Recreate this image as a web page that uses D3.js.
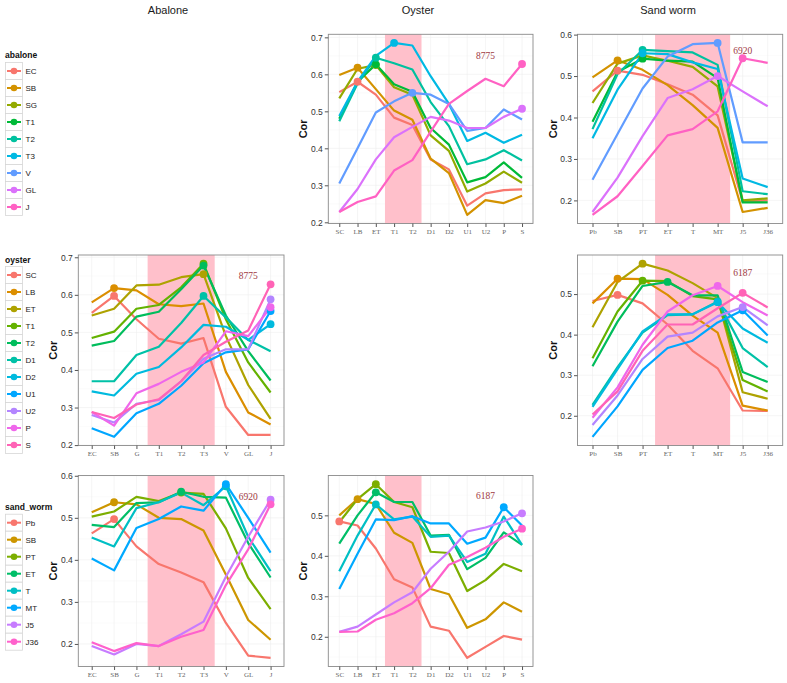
<!DOCTYPE html>
<html><head><meta charset="utf-8">
<script src="https://cdn.jsdelivr.net/npm/d3@7"></script>
<style>body{margin:0;background:#fff}</style>
</head><body><svg id="c" width="787" height="683"></svg>
<script>
// ---------- categories ----------
const abaloneLegend = ["EC","SB","SG","T1","T2","T3","V","GL","J"];
const abaloneAxis   = ["EC","SB","G","T1","T2","T3","V","GL","J"];
const oysterStages  = ["SC","LB","ET","T1","T2","D1","D2","U1","U2","P","S"];
const sandwormStages = ["Pb","SB","PT","ET","T","MT","J5","J36"];
const columnTitles = ["Abalone","Oyster","Sand worm"];
const legendTitles = ["abalone","oyster","sand_worm"];

// ---------- colours (ggplot hue palettes) ----------
const abaloneColors = ["#F8766D","#D39200","#93AA00","#00BA38","#00C19F","#00B9E3","#619CFF","#DB72FB","#FF61C3"];
const oysterColors = ["#F8766D","#DB8E00","#AEA200","#64B200","#00BD5C","#00C1A7","#00BADE","#00A6FF","#B385FF","#EF67EB","#FF63B6"];
const sandwormColors = ["#F8766D","#CD9600","#7CAE00","#00BE67","#00BFC4","#00A9FF","#C77CFF","#FF61CC"];

// ---------- values: one row per line (row species stage), one column per x stage ----------
// abalone stages (lines) vs oyster stages (x)
const abaloneVsOyster = [
  [0.552,0.580,0.545,0.483,0.463,0.370,0.343,0.245,0.278,0.287,0.289],
  [0.598,0.618,0.560,0.502,0.477,0.372,0.333,0.220,0.260,0.252,0.272],
  [0.535,0.615,0.625,0.565,0.545,0.435,0.393,0.283,0.305,0.337,0.307],
  [0.480,0.580,0.627,0.573,0.553,0.455,0.410,0.308,0.322,0.362,0.320],
  [0.473,0.575,0.645,0.630,0.613,0.525,0.460,0.357,0.370,0.395,0.367],
  [0.487,0.580,0.650,0.685,0.678,0.595,0.520,0.420,0.442,0.415,0.437],
  [0.305,0.400,0.497,0.527,0.550,0.545,0.520,0.447,0.455,0.505,0.478],
  [0.228,0.290,0.370,0.430,0.458,0.485,0.475,0.455,0.455,0.485,0.507],
  [0.228,0.255,0.270,0.340,0.368,0.445,0.520,0.555,0.588,0.568,0.628]
];
// abalone stages (lines) vs sand worm stages (x)
const abaloneVsSandworm = [
  [0.463,0.513,0.503,0.480,0.455,0.405,0.197,0.200],
  [0.497,0.538,0.515,0.478,0.430,0.375,0.172,0.182],
  [0.435,0.530,0.550,0.537,0.522,0.475,0.200,0.205],
  [0.390,0.510,0.542,0.537,0.535,0.495,0.195,0.195],
  [0.372,0.505,0.563,0.560,0.557,0.527,0.222,0.215],
  [0.350,0.467,0.555,0.553,0.533,0.517,0.253,0.232],
  [0.250,0.360,0.470,0.547,0.577,0.580,0.340,0.340],
  [0.172,0.255,0.355,0.447,0.468,0.500,0.463,0.427],
  [0.165,0.210,0.283,0.357,0.372,0.415,0.543,0.532]
];
// oyster stages (lines) vs abalone stages (x)
const oysterVsAbalone = [
  [0.552,0.597,0.535,0.483,0.470,0.485,0.302,0.227,0.227],
  [0.580,0.618,0.612,0.575,0.570,0.577,0.395,0.287,0.255],
  [0.545,0.563,0.625,0.627,0.647,0.655,0.490,0.360,0.270],
  [0.485,0.502,0.563,0.573,0.620,0.683,0.535,0.420,0.340],
  [0.465,0.477,0.542,0.555,0.615,0.678,0.545,0.450,0.372],
  [0.370,0.370,0.440,0.462,0.525,0.597,0.540,0.480,0.450],
  [0.343,0.332,0.390,0.408,0.460,0.520,0.515,0.480,0.522],
  [0.245,0.222,0.285,0.310,0.358,0.418,0.447,0.455,0.557],
  [0.280,0.260,0.310,0.320,0.370,0.430,0.455,0.455,0.588],
  [0.288,0.252,0.338,0.363,0.395,0.420,0.503,0.490,0.567],
  [0.288,0.272,0.308,0.322,0.370,0.440,0.475,0.505,0.628]
];
// oyster stages (lines) vs sand worm stages (x)
const oysterVsSandworm = [
  [0.483,0.498,0.477,0.425,0.360,0.317,0.213,0.212],
  [0.477,0.538,0.537,0.498,0.447,0.405,0.225,0.213],
  [0.418,0.530,0.575,0.558,0.527,0.490,0.258,0.242],
  [0.342,0.457,0.533,0.532,0.495,0.487,0.288,0.260],
  [0.322,0.432,0.520,0.530,0.497,0.497,0.308,0.283],
  [0.227,0.320,0.405,0.448,0.450,0.482,0.367,0.320],
  [0.222,0.315,0.408,0.450,0.450,0.480,0.415,0.380],
  [0.148,0.223,0.313,0.367,0.385,0.430,0.460,0.398],
  [0.177,0.250,0.340,0.395,0.405,0.445,0.468,0.423],
  [0.195,0.270,0.375,0.457,0.497,0.520,0.480,0.447],
  [0.203,0.260,0.360,0.425,0.425,0.465,0.503,0.467]
];
// sand worm stages (lines) vs abalone stages (x)
const sandwormVsAbalone = [
  [0.463,0.497,0.432,0.390,0.370,0.347,0.250,0.172,0.167],
  [0.513,0.537,0.532,0.500,0.497,0.470,0.365,0.257,0.210],
  [0.503,0.515,0.550,0.540,0.560,0.557,0.475,0.357,0.283],
  [0.483,0.478,0.535,0.537,0.562,0.550,0.548,0.440,0.358],
  [0.453,0.432,0.523,0.537,0.560,0.530,0.575,0.455,0.373],
  [0.403,0.375,0.476,0.497,0.527,0.517,0.580,0.500,0.417],
  [0.195,0.175,0.200,0.195,0.223,0.253,0.360,0.455,0.543],
  [0.204,0.183,0.202,0.195,0.217,0.233,0.340,0.425,0.532]
];
// sand worm stages (lines) vs oyster stages (x)
const sandwormVsOyster = [
  [0.485,0.475,0.418,0.342,0.322,0.225,0.215,0.148,0.175,0.202,0.193],
  [0.500,0.540,0.528,0.457,0.432,0.318,0.305,0.222,0.243,0.285,0.262],
  [0.483,0.540,0.577,0.533,0.520,0.410,0.407,0.313,0.340,0.380,0.362],
  [0.430,0.500,0.557,0.533,0.533,0.450,0.452,0.367,0.395,0.458,0.427],
  [0.362,0.450,0.527,0.490,0.497,0.447,0.450,0.385,0.405,0.497,0.427],
  [0.318,0.405,0.490,0.488,0.498,0.480,0.480,0.430,0.445,0.520,0.475],
  [0.212,0.225,0.255,0.285,0.310,0.368,0.410,0.460,0.470,0.485,0.505],
  [0.212,0.213,0.242,0.258,0.283,0.320,0.378,0.397,0.420,0.447,0.467]
];
// annotations (gene counts)
const annotationTexts = ["8775","6920","8775","6187","6920","6187"];
const annotationX = ["U2","J5","GL","J5","GL","U2"];
const annotationY = [0.650,0.561,0.650,0.552,0.550,0.547];

// ---------- layout ----------
const colX = [[78.3,284],[328.3,533],[577.5,782.7]];
const rowY = [[34.3,223.5],[255,445.5],[475.5,666.5]];

const panels = [
  {col:1,row:0,xCats:oysterStages,colors:abaloneColors,data:abaloneVsOyster,shade:["T1","T2"],ai:0},
  {col:2,row:0,xCats:sandwormStages,colors:abaloneColors,data:abaloneVsSandworm,shade:["ET","MT"],ai:1},
  {col:0,row:1,xCats:abaloneAxis,colors:oysterColors,data:oysterVsAbalone,shade:["T1","T3"],ai:2},
  {col:2,row:1,xCats:sandwormStages,colors:oysterColors,data:oysterVsSandworm,shade:["ET","MT"],ai:3},
  {col:0,row:2,xCats:abaloneAxis,colors:sandwormColors,data:sandwormVsAbalone,shade:["T1","T3"],ai:4},
  {col:1,row:2,xCats:oysterStages,colors:sandwormColors,data:sandwormVsOyster,shade:["T1","T2"],ai:5}
];

const svg = d3.select("#c");
const sans = "'Liberation Sans', Arial, Helvetica, sans-serif";
const serif = "'Liberation Serif', 'Times New Roman', serif";

// column titles
const titleX = [168, 418, 668];
columnTitles.forEach((t,i)=>{
  svg.append("text").attr("x",titleX[i]).attr("y",14).attr("text-anchor","middle")
    .attr("font-family",sans).attr("font-size",11).attr("fill","#1a1a1a").text(t);
});

panels.forEach(p=>{
  const [x0,x1] = colX[p.col], [y0,y1] = rowY[p.row];
  const all = p.data.flat();
  const mn = d3.min(all), mx = d3.max(all), pad = (mx-mn)*0.05;
  const y = d3.scaleLinear().domain([mn-pad, mx+pad]).range([y1,y0]);
  const x = d3.scalePoint().domain(p.xCats).range([x0,x1]).padding(0.6);
  const step = x.step();
  const g = svg.append("g");

  // grid
  const ticks = d3.range(0.1,0.75,0.1).map(v=>+v.toFixed(1)).filter(v=>v>=y.domain()[0] && v<=y.domain()[1]);
  const minor = d3.range(0.05,0.8,0.1).map(v=>+v.toFixed(2)).filter(v=>v>=y.domain()[0] && v<=y.domain()[1]);
  g.selectAll(".mn").data(minor).join("line").attr("x1",x0).attr("x2",x1)
    .attr("y1",d=>y(d)).attr("y2",d=>y(d)).attr("stroke","#f7f7f7").attr("stroke-width",0.5);
  g.selectAll(".mj").data(ticks).join("line").attr("x1",x0).attr("x2",x1)
    .attr("y1",d=>y(d)).attr("y2",d=>y(d)).attr("stroke","#efefef").attr("stroke-width",0.6);
  g.selectAll(".vx").data(p.xCats).join("line").attr("x1",d=>x(d)).attr("x2",d=>x(d))
    .attr("y1",y0).attr("y2",y1).attr("stroke","#efefef").attr("stroke-width",0.6);

  // shaded band
  const sx0 = x(p.shade[0]) - step/2, sx1 = x(p.shade[1]) + step/2;
  g.append("rect").attr("x",sx0).attr("y",y0).attr("width",sx1-sx0).attr("height",y1-y0)
    .attr("fill","#FFC0CB");

  // lines
  const line = d3.line().x((d,i)=>x(p.xCats[i])).y(d=>y(d));
  p.data.forEach((s,k)=>{
    g.append("path").attr("d",line(s)).attr("fill","none").attr("stroke",p.colors[k])
      .attr("stroke-width",2.2).attr("stroke-linejoin","round");
  });
  // dots at maxima
  p.data.forEach((s,k)=>{
    const i = d3.maxIndex(s);
    g.append("circle").attr("cx",x(p.xCats[i])).attr("cy",y(s[i])).attr("r",3.9).attr("fill",p.colors[k]);
  });

  // annotation
  g.append("text").attr("x",x(annotationX[p.ai])).attr("y",y(annotationY[p.ai])+3)
    .attr("text-anchor","middle").attr("font-family",serif).attr("font-size",9.5)
    .attr("fill","#a0393f").text(annotationTexts[p.ai]);

  // border
  g.append("rect").attr("x",x0).attr("y",y0).attr("width",x1-x0).attr("height",y1-y0)
    .attr("fill","none").attr("stroke","#8a8a8a").attr("stroke-width",0.9);

  // y axis
  const ya = g.append("g").attr("transform",`translate(${x0},0)`)
    .call(d3.axisLeft(y).tickValues(ticks).tickSize(3.5).tickPadding(2).tickFormat(d3.format(".1f")));
  ya.select(".domain").remove();
  ya.selectAll("line").attr("stroke","#555");
  ya.selectAll("text").attr("font-family",sans).attr("font-size",8.5).attr("fill","#333");

  // x axis
  const xa = g.append("g").attr("transform",`translate(0,${y1})`)
    .call(d3.axisBottom(x).tickSize(3.5).tickPadding(2));
  xa.select(".domain").remove();
  xa.selectAll("line").attr("stroke","#555");
  xa.selectAll("text").attr("font-family",serif).attr("font-size",7).attr("fill","#666");

  // y label
  g.append("text").attr("transform",`translate(${x0-21},${(y0+y1)/2}) rotate(-90)`)
    .attr("text-anchor","middle").attr("font-family",sans).attr("font-weight","bold")
    .attr("font-size",11).attr("fill","#111").text("Cor");
});

// legends
const legends = [
  {title:legendTitles[0],names:abaloneLegend,colors:abaloneColors,ty:55,ky:71},
  {title:legendTitles[1],names:oysterStages,colors:oysterColors,ty:260,ky:275},
  {title:legendTitles[2],names:sandwormStages,colors:sandwormColors,ty:507.3,ky:522.7}
];
legends.forEach(L=>{
  const g = svg.append("g");
  g.append("text").attr("x",5).attr("y",L.ty+3).attr("font-family",sans).attr("font-weight","bold")
    .attr("font-size",8.5).attr("fill","#111").text(L.title);
  L.names.forEach((n,i)=>{
    const cy = L.ky + i*17;
    g.append("rect").attr("x",5.5).attr("y",cy-8.5).attr("width",17).attr("height",17)
      .attr("fill","#fff").attr("stroke","#d6d6d6").attr("stroke-width",0.8);
    g.append("line").attr("x1",7).attr("x2",21).attr("y1",cy).attr("y2",cy)
      .attr("stroke",L.colors[i]).attr("stroke-width",2);
    g.append("circle").attr("cx",14).attr("cy",cy).attr("r",3.3).attr("fill",L.colors[i]);
    g.append("text").attr("x",25.5).attr("y",cy+3).attr("font-family",sans).attr("font-size",8)
      .attr("fill","#222").text(n);
  });
});
</script></body></html>
